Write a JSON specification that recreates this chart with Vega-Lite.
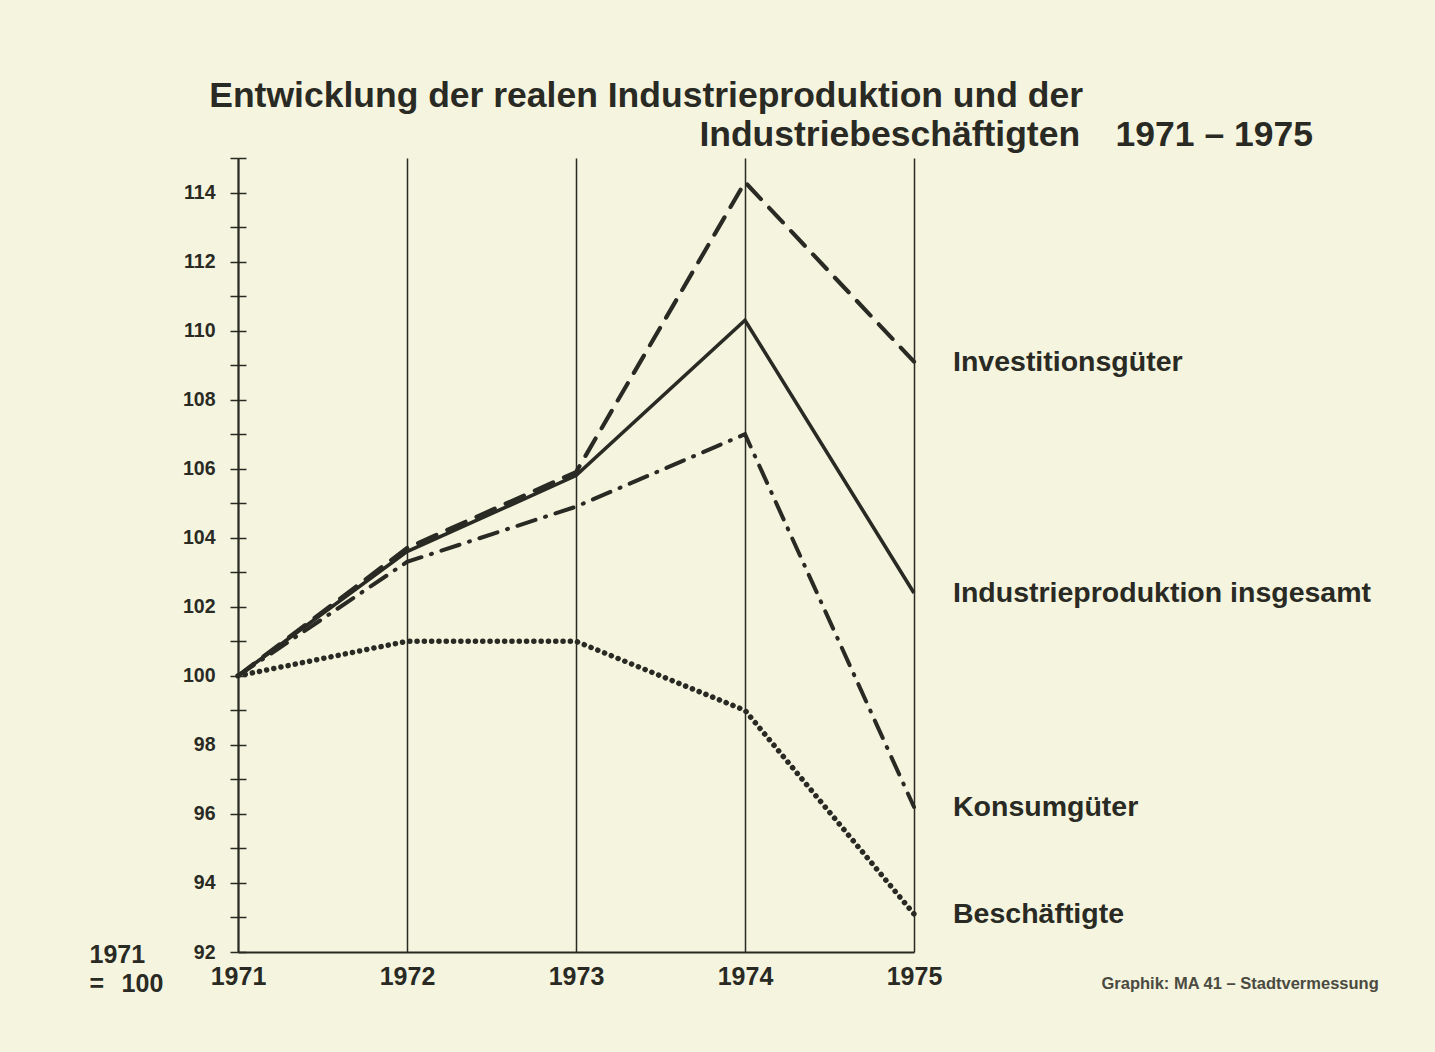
{
  "$schema": "https://vega.github.io/schema/vega-lite/v6.json",
  "autosize": "none",
  "padding": {"left": 238, "top": 158, "right": 521, "bottom": 100},
  "width": 676,
  "height": 794,
  "background": "#f5f5df",
  "config": {
    "view": {"stroke": null},
    "font": "Liberation Sans",
    "text": {"color": "#2a2a24"}
  },
  "title": {
    "text": ["Entwicklung der realen Industrieproduktion und der\u2003\u2003\u2003\u2003\u2003\u2003\u00a0\u2009\u200b", "Industriebesch\u00e4ftigten\u20031971 \u2013 1975"],
    "anchor": "end",
    "align": "right",
    "frame": "group",
    "dx": 399,
    "dy": 45,
    "fontSize": 35.5,
    "fontWeight": "bold",
    "font": "Liberation Sans",
    "color": "#2a2a24",
    "lineHeight": 39,
    "baseline": "alphabetic",
    "offset": 12
  },
  "data": {
    "values": [
      {"series": "Investitionsg\u00fcter", "year": 1971, "value": 100},
      {"series": "Investitionsg\u00fcter", "year": 1972, "value": 103.7},
      {"series": "Investitionsg\u00fcter", "year": 1973, "value": 105.9},
      {"series": "Investitionsg\u00fcter", "year": 1974, "value": 114.3},
      {"series": "Investitionsg\u00fcter", "year": 1975, "value": 109.1},
      {"series": "Industrieproduktion insgesamt", "year": 1971, "value": 100},
      {"series": "Industrieproduktion insgesamt", "year": 1972, "value": 103.6},
      {"series": "Industrieproduktion insgesamt", "year": 1973, "value": 105.8},
      {"series": "Industrieproduktion insgesamt", "year": 1974, "value": 110.3},
      {"series": "Industrieproduktion insgesamt", "year": 1975, "value": 102.4},
      {"series": "Konsumg\u00fcter", "year": 1971, "value": 100},
      {"series": "Konsumg\u00fcter", "year": 1972, "value": 103.3},
      {"series": "Konsumg\u00fcter", "year": 1973, "value": 104.9},
      {"series": "Konsumg\u00fcter", "year": 1974, "value": 107.0},
      {"series": "Konsumg\u00fcter", "year": 1975, "value": 96.2},
      {"series": "Besch\u00e4ftigte", "year": 1971, "value": 100},
      {"series": "Besch\u00e4ftigte", "year": 1972, "value": 101.0},
      {"series": "Besch\u00e4ftigte", "year": 1973, "value": 101.0},
      {"series": "Besch\u00e4ftigte", "year": 1974, "value": 99.0},
      {"series": "Besch\u00e4ftigte", "year": 1975, "value": 93.1}
    ]
  },
  "encoding": {
    "x": {
      "field": "year",
      "type": "quantitative",
      "scale": {"domain": [1971, 1975], "nice": false, "zero": false},
      "axis": {
        "values": [1971, 1972, 1973, 1974, 1975],
        "format": "d",
        "ticks": false,
        "grid": true,
        "gridColor": "#2a2a24",
        "gridWidth": 1.5,
        "gridOpacity": 1,
        "domainColor": "#2a2a24",
        "domainWidth": 2,
        "labelFont": "Liberation Sans",
        "labelFontSize": 25,
        "labelFontWeight": "bold",
        "labelColor": "#2a2a24",
        "labelPadding": 12,
        "labelFlush": false,
        "labelOverlap": false,
        "title": "Graphik: MA 41 \u2013 Stadtvermessung",
        "titleFont": "Liberation Sans",
        "titleFontSize": 16.5,
        "titleFontWeight": "bold",
        "titleColor": "#4a4a40",
        "titleAlign": "left",
        "titleAnchor": "start",
        "titleBaseline": "alphabetic",
        "titleX": 863,
        "titleY": 36
      }
    },
    "y": {
      "field": "value",
      "type": "quantitative",
      "scale": {"domain": [92, 115], "nice": false, "zero": false}
    }
  },
  "layer": [
    {
      "transform": [{"filter": "datum.series == 'Industrieproduktion insgesamt'"}],
      "mark": {"type": "line", "color": "#2a2a24", "strokeWidth": 3.6, "strokeJoin": "miter"},
      "encoding": {
        "y": {
          "field": "value",
          "type": "quantitative",
          "scale": {"domain": [92, 115], "nice": false, "zero": false},
          "axis": {
            "orient": "left",
            "values": [92, 93, 94, 95, 96, 97, 98, 99, 100, 101, 102, 103, 104, 105, 106, 107, 108, 109, 110, 111, 112, 113, 114, 115],
            "labelExpr": "datum.value % 2 == 0 ? datum.label : ''",
            "grid": false,
            "tickSize": 8,
            "tickWidth": 1.5,
            "tickColor": "#2a2a24",
            "domainColor": "#2a2a24",
            "domainWidth": 2,
            "labelFont": "Liberation Sans",
            "labelFontSize": 19.5,
            "labelFontWeight": "bold",
            "labelColor": "#2a2a24",
            "labelPadding": 15,
            "labelOverlap": false,
            "labelFlush": false,
            "title": ["1971", "=\u2002\u2009100"],
            "titleFont": "Liberation Sans",
            "titleFontSize": 25,
            "titleFontWeight": "bold",
            "titleColor": "#2a2a24",
            "titleAngle": 0,
            "titleAlign": "left",
            "titleAnchor": "start",
            "titleBaseline": "alphabetic",
            "titleLineHeight": 29,
            "titleX": -149,
            "titleY": 804
          }
        }
      }
    },
    {
      "transform": [{"filter": "datum.series == 'Investitionsg\u00fcter'"}],
      "mark": {"type": "line", "color": "#2a2a24", "strokeWidth": 4.2, "strokeDash": [20, 12], "strokeCap": "round", "strokeJoin": "miter"},
      "encoding": {
        "y": {"field": "value", "type": "quantitative", "axis": null}
      }
    },
    {
      "transform": [{"filter": "datum.series == 'Konsumg\u00fcter'"}],
      "mark": {"type": "line", "color": "#2a2a24", "strokeWidth": 4, "strokeDash": [19, 10, 1, 10], "strokeCap": "round", "strokeJoin": "miter"},
      "encoding": {
        "y": {"field": "value", "type": "quantitative", "axis": null}
      }
    },
    {
      "transform": [{"filter": "datum.series == 'Besch\u00e4ftigte'"}],
      "mark": {"type": "line", "color": "#2a2a24", "strokeWidth": 5.5, "strokeDash": [0.1, 7.2], "strokeCap": "round", "strokeJoin": "round"},
      "encoding": {
        "y": {"field": "value", "type": "quantitative", "axis": null}
      }
    },
    {
      "transform": [{"filter": "datum.year == 1975"}],
      "mark": {"type": "text", "align": "left", "baseline": "middle", "dx": 39, "fontSize": 28.5, "fontWeight": "bold", "font": "Liberation Sans", "color": "#2a2a24"},
      "encoding": {
        "text": {"field": "series"},
        "y": {
          "field": "value",
          "type": "quantitative",
          "axis": {
            "orient": "left",
            "offset": -8,
            "values": [92, 93, 94, 95, 96, 97, 98, 99, 100, 101, 102, 103, 104, 105, 106, 107, 108, 109, 110, 111, 112, 113, 114, 115],
            "labels": false,
            "domain": false,
            "grid": false,
            "tickSize": 8,
            "tickWidth": 1.5,
            "tickColor": "#2a2a24",
            "title": null
          }
        }
      }
    }
  ],
  "resolve": {"axis": {"y": "independent"}}
}
